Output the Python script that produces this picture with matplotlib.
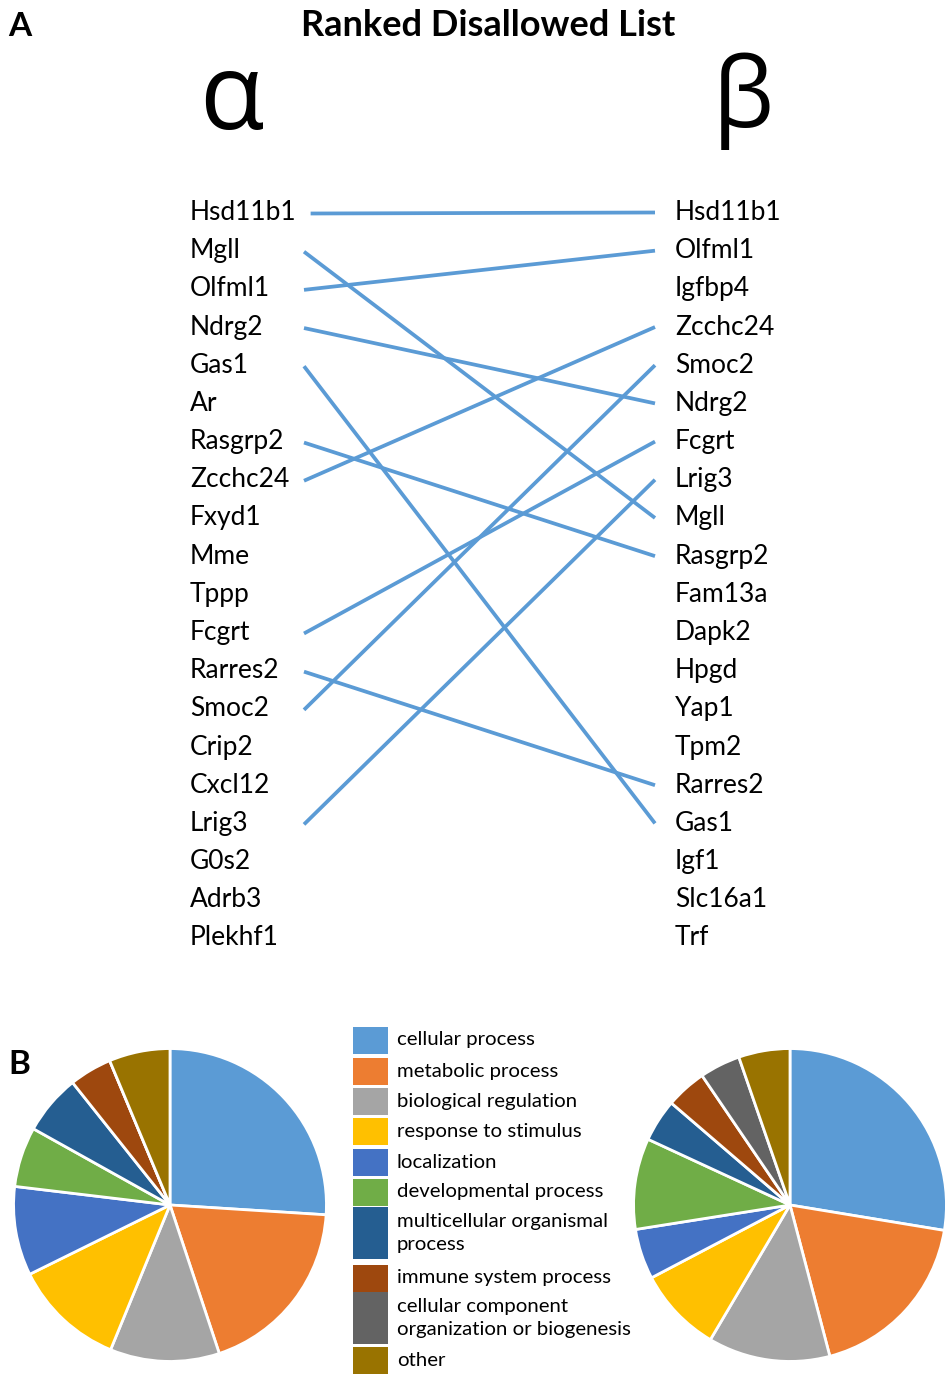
import matplotlib
matplotlib.use("Agg")
import matplotlib.pyplot as plt
from matplotlib.patches import Rectangle

plt.rcParams['font.family'] = ['Lato', 'DejaVu Sans']

alpha_genes = ["Hsd11b1", "Mgll", "Olfml1", "Ndrg2", "Gas1", "Ar", "Rasgrp2", "Zcchc24",
               "Fxyd1", "Mme", "Tppp", "Fcgrt", "Rarres2", "Smoc2", "Crip2", "Cxcl12",
               "Lrig3", "G0s2", "Adrb3", "Plekhf1"]
beta_genes = ["Hsd11b1", "Olfml1", "Igfbp4", "Zcchc24", "Smoc2", "Ndrg2", "Fcgrt", "Lrig3",
              "Mgll", "Rasgrp2", "Fam13a", "Dapk2", "Hpgd", "Yap1", "Tpm2", "Rarres2",
              "Gas1", "Igf1", "Slc16a1", "Trf"]

categories = ["cellular process", "metabolic process", "biological regulation",
              "response to stimulus", "localization", "developmental process",
              "multicellular organismal\nprocess", "immune system process",
              "cellular component\norganization or biogenesis", "other"]
alpha_pct = [26.0, 18.9, 11.3, 11.5, 9.2, 6.2, 6.2, 4.4, 0.0, 6.3]
beta_pct = [27.6, 18.3, 12.6, 8.8, 5.2, 9.4, 4.4, 4.2, 4.2, 5.3]
colors = ["#5B9BD5", "#ED7D31", "#A5A5A5", "#FFC000", "#4472C4", "#70AD47",
          "#255E91", "#9E480E", "#636363", "#997300"]

W, H = 950, 1376
fig = plt.figure(figsize=(W / 100, H / 100), dpi=100)
ax = fig.add_axes([0, 0, 1, 1])
ax.set_xlim(0, W)
ax.set_ylim(H, 0)
ax.axis("off")

ax.text(20, 26, "A", fontsize=24, fontweight="bold", ha="center", va="center")
ax.text(19, 1065, "B", fontsize=24, fontweight="bold", ha="center", va="center")
ax.text(488, 25, "Ranked Disallowed List", fontsize=26, fontweight="bold",
        ha="center", va="center")
ax.text(231, 101, "α", fontsize=76, ha="center", va="center", family=['Open Sans', 'DejaVu Sans'])
ax.text(743, 101, "β", fontsize=70, ha="center", va="center", family=['Open Sans', 'DejaVu Sans'])

y0, dy = 211.5, 38.18
xl, xr = 190, 675
left_txt = {}
for i, g in enumerate(alpha_genes):
    left_txt[g] = ax.text(xl, y0 + i * dy + 8.5, g, fontsize=19, ha="left", va="baseline")
for i, g in enumerate(beta_genes):
    ax.text(xr, y0 + i * dy + 8.5, g, fontsize=19, ha="left", va="baseline")

fig.canvas.draw()
renderer = fig.canvas.get_renderer()
inv = ax.transData.inverted()

for i, g in enumerate(alpha_genes):
    if g in beta_genes:
        j = beta_genes.index(g)
        bb = left_txt[g].get_window_extent(renderer)
        right_edge = inv.transform((bb.x1, 0))[0]
        x1 = max(right_edge + 14, 304)
        ax.plot([x1, 655], [y0 + i * dy + 2, y0 + j * dy + 1], color="#5B9BD5",
                lw=2.7, solid_capstyle="butt")

# pies
def pie_axes(cx, cy, r):
    return fig.add_axes([(cx - r) / W, (H - cy - r) / H, 2 * r / W, 2 * r / H])

for (cx, vals) in [(170, alpha_pct), (790, beta_pct)]:
    pa = pie_axes(cx, 1205, 158)
    pa.pie(vals, colors=colors, startangle=90, counterclock=False,
           wedgeprops=dict(edgecolor="white", linewidth=2))
    pa.set_xlim(-1.01, 1.01)
    pa.set_ylim(-1.01, 1.01)
    pa.set_aspect("equal")
    pa.axis("off")

# legend
leg_y = [1040, 1071, 1101, 1131, 1162, 1192, 1233, 1278, 1318, 1360]
heights = [27, 27, 27, 27, 27, 27, 52, 27, 52, 27]
for k, cat in enumerate(categories):
    yc = leg_y[k]
    h = heights[k]
    ax.add_patch(Rectangle((353, yc - h / 2), 35, h, facecolor=colors[k], edgecolor="none"))
    ax.text(397, yc, cat, fontsize=14.7, ha="left", va="center", linespacing=1.45)

fig.savefig("out.png", dpi=100)
